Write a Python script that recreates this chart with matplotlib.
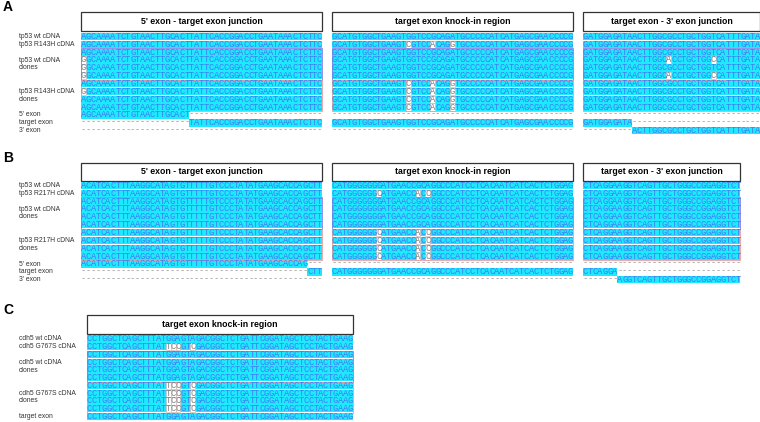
import matplotlib
matplotlib.use('Agg')
import matplotlib.pyplot as plt
from matplotlib.patches import Rectangle

# panel A - tp53 R143H
a_titles = ["5' exon - target exon junction", "target exon knock-in region", "target exon - 3' exon junction"]
a_wt = ["AGCAAAATCTGTAACTTGCACTTATTCACCGGACCTGAATAAACTCTTC",
        "GCATGTGGCTGAAGTGGTCCGCAGATGCCCCCATCATGAGCGAACCCCG",
        "GATGGAGATAACTTGGCGCCTGCTGGTCATTTGATA"]
a_mut = ["GGCAAAATCTGTAACTTGCACTTATTCACCGGACCTGAATAAACTCTTC",
         "GCATGTGGCTGAAGTCGTCCACAGGTGCCCCCATCATGAGCGAACCCCG",
         "GATGGAGATAACTTGGCACCTGCTGGCCATTTGATA"]
# which variant each row uses per segment (w = wt, m = mutant)
a_rows = ["www", "wmw", "www", "mwm", "mww", "mwm", "wmw", "mmw", "wmw", "wmw"]
a_exon_split = [22, 108]     # 5' exon end, target exon end (char index over all segments)
a_labels = {0: "tp53 wt cDNA", 1: "tp53 R143H cDNA", 3: "tp53 wt cDNA", 4: "clones",
            7: "tp53 R143H cDNA", 8: "clones", 10: "5' exon", 11: "target exon", 12: "3' exon"}

# panel B - tp53 R217H
b_titles = ["5' exon - target exon junction", "target exon knock-in region", "target exon - 3' exon junction"]
b_wt = ["ACATCACTTTAAGGCATAGTGTTTTTGTCCCTATATGAAGCACCAGCTT",
        "CATGGGGGGGATGAACCGCAGGCCCATCCTCACAATCATCACTCTGGAG",
        "CTCAGGAAGGTCAGTTGCTGGGCCGGAGGTCT"]
b_mut = [b_wt[0],
         "CATGGGGGGCATGAACCACCGGCCCATCCTCACAATCATCACTCTGGAG",
         b_wt[2]]
b_rows = ["www", "wmw", "www", "www", "www", "www", "wmw", "wmw", "wmw", "wmw"]
b_exon_split = [46, 105]
b_labels = {0: "tp53 wt cDNA", 1: "tp53 R217H cDNA", 3: "tp53 wt cDNA", 4: "clones",
            7: "tp53 R217H cDNA", 8: "clones", 10: "5' exon", 11: "target exon", 12: "3' exon"}

# panel C - cdh5 G767S
c_titles = ["target exon knock-in region"]
c_wt = ["CCTGGCTCAGCTTTATGGAGTAGACGGCTCTGATTCGGATAGCTCCTACTGAAG"]
c_mut = ["CCTGGCTCAGCTTTATTCCGTCGACGGCTCTGATTCGGATAGCTCCTACTGAAG"]
c_rows = ["w", "m", "w", "w", "w", "w", "m", "m", "m", "m"]
c_labels = {0: "cdh5 wt cDNA", 1: "cdh5 G767S cDNA", 3: "cdh5 wt cDNA", 4: "clones",
            7: "cdh5 G767S cDNA", 8: "clones", 10: "target exon"}

CW = 4.92
CYAN = '#1de9ff'
BLUE = '#3f7ef2'
MONO = 'Liberation Mono'
SANS = 'Liberation Sans'
FS = 6.3


def cell_row(ax, x, yc, s, ref, h):
    # cyan runs first, then letters
    i = 0
    while i < len(s):
        if s[i] == '-':
            i += 1
            continue
        j = i
        while j < len(s) and s[j] != '-':
            j += 1
        ax.add_patch(Rectangle((x + i * CW, yc - h / 2), (j - i) * CW, h, facecolor=CYAN, edgecolor='none'))
        i = j
    for i, c in enumerate(s):
        xc = x + (i + 0.5) * CW
        if c == '-':
            ax.text(xc, yc + 1.6, '-', color='#9a9a9a', fontsize=FS, family=MONO, ha='center', va='baseline')
        elif c != ref[i]:
            ax.add_patch(Rectangle((x + i * CW, yc - h / 2), CW, h, facecolor='white', edgecolor='#d4b8b8', lw=0.5))
            ax.text(xc, yc + 2.4, c, color='#808080', fontsize=FS, family=MONO, ha='center', va='baseline')
        else:
            ax.text(xc, yc + 2.4, c, color=BLUE, fontsize=FS, family=MONO, ha='center', va='baseline')


def draw_panel(ax, letter, ly, x0, head_top, head_bot, row0, dy, titles, wt, mut, rows, split, labels):
    ax.text(3, ly, letter, fontsize=10, fontweight='bold', family=SANS, va='center', ha='left')
    starts = []
    x = x0
    for s in wt:
        starts.append(x)
        x += (len(s) + 2) * CW
    for k, t in enumerate(titles):
        w = len(wt[k]) * CW
        ax.add_patch(Rectangle((starts[k], head_top), w, head_bot - head_top, facecolor='white',
                               edgecolor='#333333', lw=0.9))
        ax.text(starts[k] + w / 2, (head_top + head_bot) / 2, t, fontsize=6.3, fontweight='bold',
                family=SANS, ha='center', va='center')
    h = dy * 0.93
    for r, code in enumerate(rows):
        yc = row0 + r * dy
        for k in range(len(wt)):
            s = wt[k] if code[k] == 'w' else mut[k]
            cell_row(ax, starts[k], yc, s, wt[k], h)
    # exon reference rows
    full = ''.join(wt)
    if split is None:
        exons = [full]
    else:
        bounds = [0] + split + [len(full)]
        exons = []
        for e in range(3):
            exons.append(''.join(c if bounds[e] <= i < bounds[e + 1] else '-' for i, c in enumerate(full)))
    for e, ex in enumerate(exons):
        yc = row0 + (len(rows) + e) * dy
        p = 0
        for k in range(len(wt)):
            n = len(wt[k])
            cell_row(ax, starts[k], yc, ex[p:p + n], wt[k], h)
            p += n
    # clone group boxes
    for k in range(len(wt)):
        w = len(wt[k]) * CW
        ax.add_patch(Rectangle((starts[k], row0 + 1.5 * dy), w, 4 * dy, facecolor='none',
                               edgecolor='#8080e8', lw=0.6))
        ax.add_patch(Rectangle((starts[k], row0 + 5.5 * dy), w, 4 * dy, facecolor='none',
                               edgecolor='#ee9a9a', lw=0.6))
    for r, t in labels.items():
        ax.text(19, row0 + r * dy, t, fontsize=4.9, family=SANS, color='#333333', ha='left', va='center')


fig = plt.figure(figsize=(7.6, 4.22), dpi=100)
ax = fig.add_axes([0, 0, 1, 1])
ax.set_xlim(0, 760)
ax.set_ylim(422, 0)
ax.axis('off')

draw_panel(ax, 'A', 7, 81, 12, 31, 36.5, 7.85, a_titles, a_wt, a_mut, a_rows, a_exon_split, a_labels)
draw_panel(ax, 'B', 158, 81, 163, 181, 185.5, 7.85, b_titles, b_wt, b_mut, b_rows, b_exon_split, b_labels)
draw_panel(ax, 'C', 310, 87, 315, 334, 339, 7.75, c_titles, c_wt, c_mut, c_rows, None, c_labels)

fig.savefig('out.png', dpi=100)
